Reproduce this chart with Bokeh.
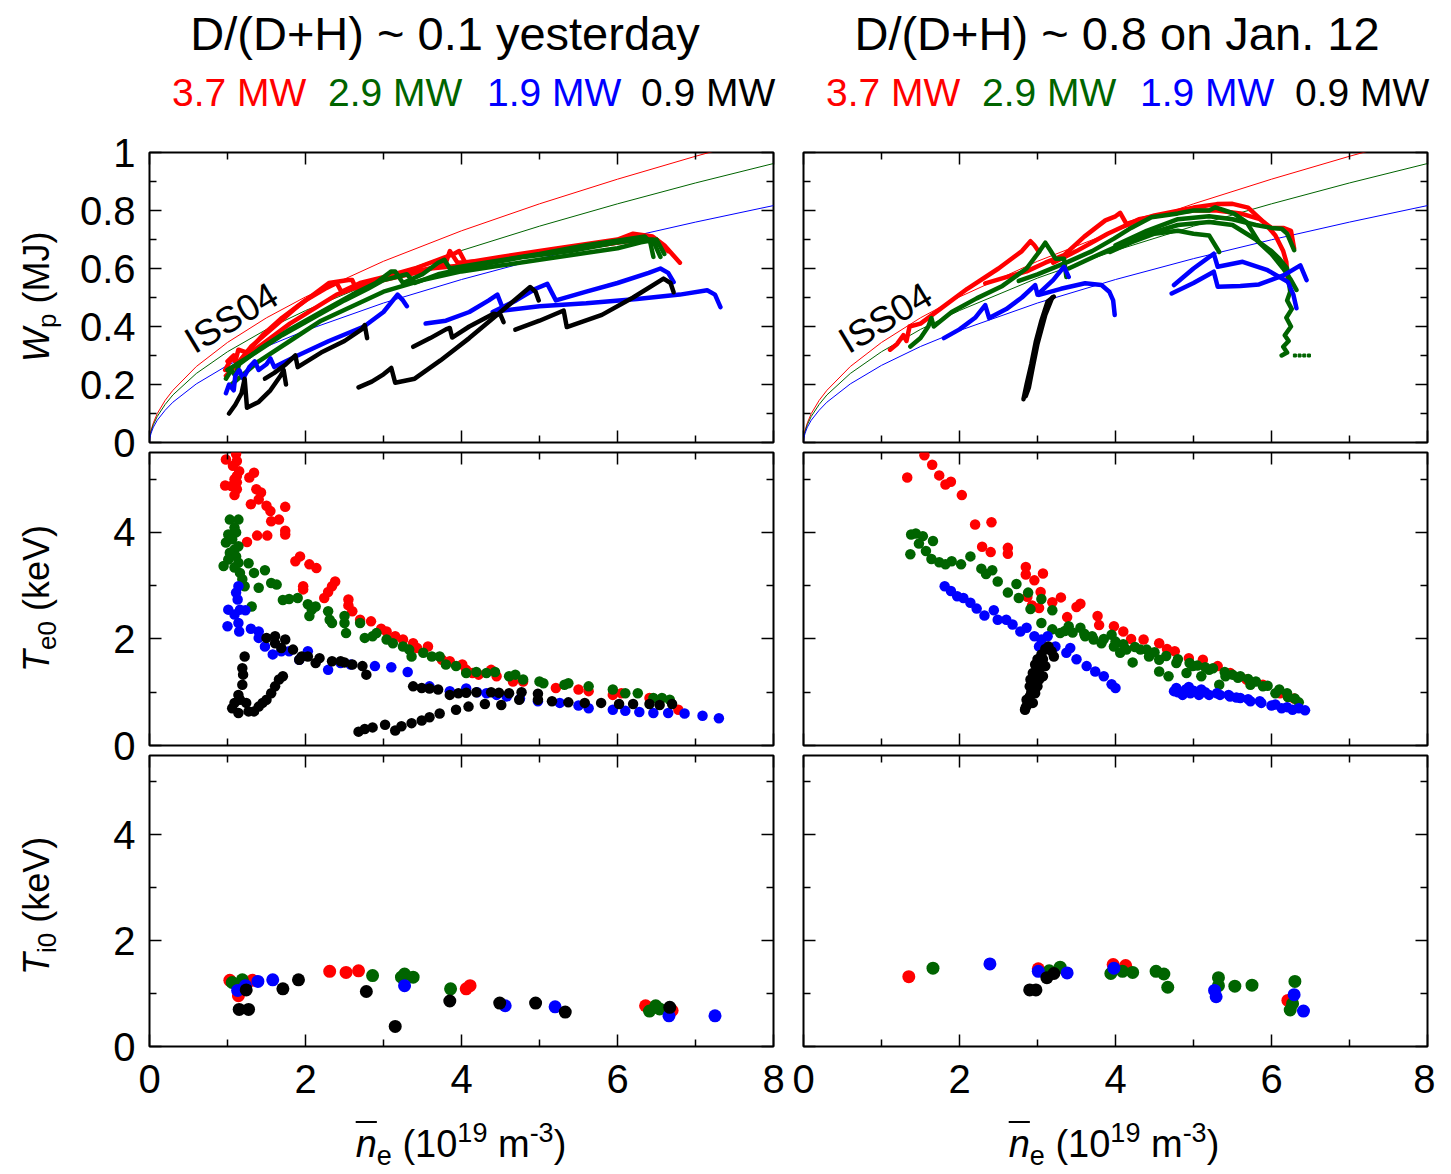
from bokeh.plotting import figure
from bokeh.models import Range1d, LinearAxis, FixedTicker, CustomJSTickFormatter, Label, Div
from bokeh.layouts import column, row
from bokeh.embed import file_html
from bokeh.resources import INLINE

FONT = "Liberation Sans"
RED = "#ff0000"
GREEN = "#006400"
BLUE = "#0000ff"
BLACK = "#000000"

TITLES = ["D/(D+H) ~ 0.1 yesterday", "D/(D+H) ~ 0.8 on Jan. 12"]
POWER_LABELS = ["3.7 MW", "2.9 MW", "1.9 MW", "0.9 MW"]
POWER_COLORS = [RED, GREEN, BLUE, BLACK]

X_TICKS = [0, 2, 4, 6, 8]
X_MINOR = [1, 3, 5, 7]
WP_TICKS = [0, 0.2, 0.4, 0.6, 0.8, 1.0]
WP_MINOR = [0.1, 0.3, 0.5, 0.7, 0.9]
T_TICKS = [0, 2, 4]
T_MINOR = [1, 3, 5]

# ISS04 scaling curves
ISS_X = [0, 0.005, 0.02, 0.05, 0.1, 0.2, 0.3, 0.6, 1, 1.5, 2, 3, 4, 5, 6, 7, 8]
ISS_RED = [0, .020, .042, .068, .100, .145, .180, .262, .345, .430, .502, .625, .730, .823, .908, .987, 1.061]
ISS_GREEN = [0, .018, .038, .062, .090, .131, .164, .238, .313, .390, .455, .567, .662, .746, .823, .895, .962]
ISS_BLUE = [0, .015, .032, .053, .077, .111, .139, .202, .266, .331, .386, .481, .562, .634, .699, .760, .817]

# ---- Wp traces, left (yesterday)
WP_L_RED_X = [
    [0.97, 1.05, 1.10, 1.14, 1.25, 1.45, 1.7, 2.0, 2.25, 2.40, 2.46, 2.7, 3.0, 3.4, 3.7, 3.9, 3.97, 4.05, 4.5, 5.0, 5.5, 6.0, 6.2, 6.45, 6.6, 6.8],
    [1.0, 1.08, 1.12, 1.3, 1.6, 1.9, 2.15, 2.3, 2.55, 2.6, 2.65, 3.0, 3.5, 3.8, 3.85, 3.95, 4.5, 5.0, 5.5, 6.0, 6.2, 6.35, 6.5, 6.65],
    [0.98, 1.2, 1.5, 1.8, 2.1, 2.4, 2.8, 3.2, 3.6, 4.0, 4.5, 5.0, 5.5, 6.0, 6.3, 6.5, 6.6],
]
WP_L_RED_Y = [
    [0.25, 0.29, 0.28, 0.32, 0.31, 0.37, 0.43, 0.49, 0.53, 0.55, 0.52, 0.55, 0.57, 0.60, 0.63, 0.65, 0.66, 0.62, 0.64, 0.66, 0.68, 0.70, 0.72, 0.71, 0.68, 0.62],
    [0.28, 0.30, 0.27, 0.33, 0.40, 0.47, 0.52, 0.55, 0.56, 0.56, 0.53, 0.56, 0.59, 0.62, 0.66, 0.62, 0.63, 0.65, 0.67, 0.69, 0.71, 0.70, 0.69, 0.66],
    [0.23, 0.29, 0.35, 0.41, 0.46, 0.51, 0.55, 0.58, 0.60, 0.61, 0.63, 0.65, 0.67, 0.69, 0.70, 0.70, 0.67],
]
WP_L_GREEN_X = [
    [0.98, 1.05, 1.1, 1.15, 1.4, 1.8, 2.2, 2.6, 2.9, 3.1, 3.15, 3.25, 3.5, 3.7, 3.78, 3.85, 4.3, 5.0, 5.6, 6.1, 6.35, 6.42, 6.46],
    [1.0, 1.3, 1.7, 2.1, 2.5, 2.8, 3.0, 3.3, 3.4, 3.7, 4.2, 4.8, 5.4, 6.0, 6.3, 6.45, 6.55],
    [1.05, 1.4, 1.8, 2.2, 2.6, 3.0, 3.5, 4.0, 4.5, 5.0, 5.5, 6.0, 6.3, 6.5, 6.6],
]
WP_L_GREEN_Y = [
    [0.22, 0.25, 0.23, 0.27, 0.32, 0.39, 0.45, 0.51, 0.55, 0.59, 0.59, 0.55, 0.58, 0.62, 0.63, 0.60, 0.62, 0.65, 0.68, 0.70, 0.71, 0.69, 0.64],
    [0.25, 0.30, 0.37, 0.43, 0.49, 0.53, 0.56, 0.58, 0.55, 0.58, 0.61, 0.64, 0.66, 0.69, 0.70, 0.70, 0.64],
    [0.20, 0.28, 0.35, 0.42, 0.47, 0.52, 0.56, 0.59, 0.61, 0.63, 0.65, 0.67, 0.69, 0.70, 0.65],
]
WP_L_BLUE_X = [
    [0.98, 1.02, 1.08, 1.1, 1.15, 1.2, 1.28, 1.35, 1.4, 1.5, 1.55, 1.6, 1.9, 2.3, 2.75, 3.0, 3.18, 3.25, 3.3],
    [3.54, 3.8, 4.1, 4.35, 4.46, 4.54, 5.0, 5.6, 6.25, 6.8, 7.15, 7.25, 7.32],
    [4.4, 4.7, 4.95, 5.1, 5.21, 5.6, 6.0, 6.4, 6.55, 6.65, 6.72],
]
WP_L_BLUE_Y = [
    [0.17, 0.20, 0.18, 0.23, 0.25, 0.22, 0.26, 0.28, 0.25, 0.27, 0.29, 0.26, 0.30, 0.35, 0.40, 0.45, 0.51, 0.49, 0.47],
    [0.41, 0.42, 0.45, 0.49, 0.51, 0.455, 0.47, 0.48, 0.495, 0.51, 0.525, 0.51, 0.467],
    [0.45, 0.49, 0.53, 0.547, 0.49, 0.52, 0.55, 0.585, 0.60, 0.585, 0.553],
]
WP_L_BLACK_X = [
    [1.02, 1.1, 1.18, 1.22, 1.25, 1.4, 1.55, 1.68, 1.72, 1.75],
    [1.48, 1.6, 1.75, 1.87, 1.9, 2.2, 2.5, 2.72, 2.76, 2.79],
    [2.68, 2.85, 3.0, 3.1, 3.15, 3.4, 3.73, 4.1, 4.5, 4.88, 4.95, 4.99],
    [3.38, 3.6, 3.8, 3.85, 3.88, 4.1, 4.41, 4.5, 4.54],
    [4.69, 5.0, 5.31, 5.35, 5.8, 6.2, 6.59, 6.68, 6.72],
]
WP_L_BLACK_Y = [
    [0.10, 0.13, 0.17, 0.22, 0.12, 0.14, 0.18, 0.23, 0.25, 0.20],
    [0.22, 0.24, 0.27, 0.30, 0.26, 0.31, 0.35, 0.39, 0.405, 0.36],
    [0.19, 0.21, 0.235, 0.257, 0.206, 0.22, 0.283, 0.36, 0.45, 0.536, 0.52, 0.49],
    [0.33, 0.36, 0.39, 0.395, 0.362, 0.40, 0.444, 0.44, 0.415],
    [0.389, 0.42, 0.455, 0.398, 0.44, 0.50, 0.565, 0.55, 0.518],
]

# ---- Wp traces, right (Jan. 12)
WP_R_RED_X = [
    [1.11, 1.2, 1.28, 1.32, 1.36, 1.5, 1.75, 2.1, 2.5, 2.8, 2.91, 2.96, 3.02],
    [2.33, 2.6, 2.86, 3.1, 3.34, 3.6, 3.87, 4.0, 4.06, 4.14, 4.5, 5.0, 5.3, 5.5, 5.7, 5.9, 6.05, 6.15, 6.19, 6.21],
    [3.2, 3.5, 3.9, 4.3, 4.7, 5.0, 5.3, 5.6, 5.85, 6.0, 6.15, 6.25, 6.29],
]
WP_R_RED_Y = [
    [0.32, 0.34, 0.37, 0.35, 0.40, 0.41, 0.46, 0.53, 0.60, 0.66, 0.694, 0.68, 0.657],
    [0.549, 0.57, 0.59, 0.62, 0.646, 0.71, 0.766, 0.78, 0.792, 0.754, 0.783, 0.81, 0.822, 0.823, 0.81, 0.76, 0.714, 0.66, 0.623, 0.554],
    [0.62, 0.66, 0.72, 0.77, 0.79, 0.80, 0.80, 0.79, 0.77, 0.74, 0.74, 0.73, 0.669],
]
WP_R_GREEN_X = [
    [1.37, 1.5, 1.6, 1.64, 1.67, 1.9, 2.22, 2.55, 2.86, 3.0, 3.1, 3.17, 3.23, 3.34, 3.37],
    [2.76, 3.0, 3.39, 3.7, 3.98, 4.2, 4.46, 4.8, 5.0, 5.2, 5.28, 5.4, 5.52, 5.68, 5.84, 6.0, 6.1, 6.2, 6.24, 6.20, 6.26, 6.19, 6.25, 6.17, 6.22, 6.15, 6.20, 6.13],
    [3.93, 4.2, 4.5, 4.8, 5.0, 5.2, 5.33],
    [4.0, 4.4, 4.8, 5.2, 5.5, 5.8, 6.0, 6.13, 6.2, 6.29],
    [3.4, 3.8, 4.3, 4.8, 5.2, 5.5, 5.8, 6.0, 6.15, 6.25, 6.32],
]
WP_R_GREEN_Y = [
    [0.331, 0.36, 0.40, 0.429, 0.40, 0.45, 0.497, 0.54, 0.60, 0.65, 0.689, 0.66, 0.634, 0.634, 0.571],
    [0.557, 0.58, 0.623, 0.66, 0.703, 0.74, 0.777, 0.79, 0.80, 0.80, 0.811, 0.80, 0.789, 0.76, 0.691, 0.66, 0.634, 0.60, 0.52, 0.49, 0.46, 0.43, 0.40, 0.37, 0.35, 0.33, 0.31, 0.30],
    [0.657, 0.69, 0.72, 0.73, 0.72, 0.714, 0.657],
    [0.68, 0.73, 0.77, 0.78, 0.77, 0.75, 0.74, 0.737, 0.72, 0.663],
    [0.60, 0.65, 0.71, 0.75, 0.76, 0.75, 0.70, 0.65, 0.60, 0.56, 0.526],
]
WP_R_GREEN_TAIL_X = [6.30, 6.36, 6.42, 6.48]
WP_R_GREEN_TAIL_Y = [0.30, 0.30, 0.30, 0.30]
WP_R_BLUE_X = [
    [1.8, 2.0, 2.2, 2.33, 2.38, 2.6, 2.8, 2.97, 3.0, 3.2, 3.34, 3.4],
    [3.02, 3.3, 3.61, 3.82, 3.92, 3.97, 3.99],
    [4.75, 5.0, 5.26, 5.31, 5.63, 5.95, 6.21, 6.28, 6.32],
    [4.72, 5.0, 5.26, 5.31, 5.6, 5.84, 6.16, 6.37, 6.45],
]
WP_R_BLUE_Y = [
    [0.36, 0.39, 0.43, 0.474, 0.429, 0.46, 0.50, 0.543, 0.51, 0.56, 0.606, 0.571],
    [0.509, 0.53, 0.549, 0.543, 0.52, 0.49, 0.44],
    [0.543, 0.60, 0.651, 0.606, 0.623, 0.594, 0.554, 0.51, 0.463],
    [0.514, 0.55, 0.589, 0.537, 0.54, 0.545, 0.577, 0.611, 0.56],
]
WP_R_BLACK_X = [
    [2.82, 2.86, 2.92, 2.98, 3.05, 3.13, 3.21],
    [3.19, 3.1, 3.0, 2.94, 2.89, 2.85],
]
WP_R_BLACK_Y = [
    [0.149, 0.20, 0.27, 0.35, 0.42, 0.486, 0.503],
    [0.50, 0.44, 0.34, 0.26, 0.19, 0.16],
]

# ---- Te0, left
TE_L_RED_X = [0.98, 1.11, 1.12, 1.07, 1.15, 1.12, 1.09, 1.12, 1.05, 0.97, 1.12, 1.09, 1.28, 1.34, 1.37, 1.43, 1.40, 1.30, 1.50, 1.55, 1.74, 1.66, 1.56, 1.74, 1.74, 1.51, 1.38, 1.25, 1.87, 1.93, 2.05, 2.14, 1.97, 1.97, 2.38, 2.34, 2.29, 2.24, 2.55, 2.55, 2.60, 2.70, 2.84, 2.97, 3.04, 3.15, 3.25, 3.38, 3.43, 3.57, 3.75, 3.85, 4.01, 4.06, 4.14, 4.22, 4.38, 4.45, 4.66, 4.79, 5.21, 5.50, 5.63, 5.94, 6.05, 6.41, 6.78]
TE_L_RED_Y = [5.37, 5.47, 5.34, 5.25, 5.15, 5.06, 5.00, 4.94, 4.87, 4.88, 4.81, 4.70, 5.03, 5.12, 4.81, 4.75, 4.62, 4.53, 4.50, 4.40, 4.48, 4.24, 4.21, 4.03, 3.96, 3.94, 3.94, 3.82, 3.46, 3.55, 3.40, 3.33, 2.99, 2.93, 3.08, 2.99, 2.88, 2.77, 2.74, 2.63, 2.52, 2.36, 2.33, 2.19, 2.14, 2.05, 1.99, 1.92, 1.83, 1.86, 1.61, 1.58, 1.52, 1.42, 1.36, 1.33, 1.42, 1.30, 1.20, 1.20, 1.08, 1.05, 1.02, 0.95, 0.98, 0.89, 0.67]
TE_L_GREEN_X = [1.03, 1.14, 1.09, 1.11, 1.01, 1.06, 0.98, 1.14, 1.09, 1.03, 1.11, 1.01, 1.14, 0.95, 1.09, 1.16, 1.19, 1.22, 1.27, 1.34, 1.48, 1.40, 1.31, 1.56, 1.63, 1.71, 1.79, 1.90, 2.03, 2.08, 2.13, 2.05, 2.29, 2.31, 2.34, 2.50, 2.50, 2.52, 2.70, 2.76, 2.86, 2.91, 3.04, 3.12, 3.25, 3.33, 3.36, 3.51, 3.62, 3.72, 3.80, 3.93, 4.06, 4.19, 4.32, 4.43, 4.61, 4.69, 4.79, 5.00, 5.05, 5.32, 5.37, 5.63, 5.94, 6.10, 6.26, 6.46, 6.57, 6.67]
TE_L_GREEN_Y = [4.24, 4.24, 4.09, 4.00, 3.96, 3.87, 3.81, 3.74, 3.68, 3.62, 3.55, 3.49, 3.43, 3.37, 3.34, 3.24, 3.12, 2.99, 3.42, 3.24, 3.29, 2.96, 2.61, 3.05, 3.02, 2.73, 2.75, 2.77, 2.65, 2.55, 2.61, 2.43, 2.52, 2.36, 2.30, 2.43, 2.30, 2.11, 2.30, 2.02, 2.05, 2.11, 1.99, 1.92, 1.86, 1.80, 1.67, 1.74, 1.67, 1.67, 1.52, 1.49, 1.36, 1.38, 1.36, 1.38, 1.30, 1.33, 1.24, 1.20, 1.17, 1.14, 1.17, 1.11, 1.05, 0.98, 0.98, 0.89, 0.89, 0.86]
TE_L_BLUE_X = [1.14, 1.11, 1.13, 1.01, 1.16, 1.09, 1.23, 1.00, 1.14, 1.15, 1.30, 1.40, 1.40, 1.48, 1.58, 1.69, 1.79, 1.92, 2.03, 2.29, 2.45, 2.58, 2.89, 3.10, 3.31,
               3.59, 3.85, 4.06, 4.20, 4.32, 4.45, 4.58, 4.75, 4.98, 5.26, 5.50, 5.63, 5.94, 6.10, 6.28, 6.46, 6.65, 6.86, 7.09, 7.30]
TE_L_BLUE_Y = [2.99, 2.87, 2.74, 2.55, 2.55, 2.46, 2.54, 2.24, 2.30, 2.14, 2.19, 2.14, 2.02, 1.86, 1.71, 1.77, 1.77, 1.61, 1.77, 1.42, 1.55, 1.52, 1.49, 1.47, 1.38,
               1.11, 1.02, 1.07, 1.00, 0.98, 0.95, 0.92, 0.88, 0.83, 0.80, 0.75, 0.70, 0.67, 0.65, 0.63, 0.61, 0.61, 0.60, 0.56, 0.51]
TE_L_BLACK_X = [1.22, 1.19, 1.20, 1.19, 1.14, 1.16, 1.09, 1.06, 1.14, 1.24, 1.27, 1.34, 1.40, 1.45, 1.50, 1.56, 1.61, 1.66, 1.71,
                1.50, 1.61, 1.74, 1.61, 1.69, 1.84, 1.92, 1.95, 2.03, 2.13, 2.18, 2.34, 2.45, 2.50, 2.60, 2.73, 2.78,
                2.68, 2.76, 2.86, 3.02, 3.15, 3.23, 3.36, 3.49, 3.59, 3.72, 3.93, 4.09, 4.30, 4.51,
                3.38, 3.49, 3.59, 3.70, 3.85, 3.96, 4.06, 4.19, 4.38, 4.48, 4.61, 4.77, 4.74, 4.98, 4.98, 5.16, 5.37, 5.58, 5.79, 6.02, 6.20, 6.41, 6.54, 6.70]
TE_L_BLACK_Y = [1.67, 1.45, 1.33, 1.14, 0.95, 0.86, 0.80, 0.70, 0.61, 0.80, 0.64, 0.64, 0.73, 0.80, 0.86, 0.98, 1.11, 1.24, 1.30,
                2.02, 2.05, 1.99, 1.92, 1.83, 1.80, 1.61, 1.67, 1.67, 1.55, 1.64, 1.58, 1.58, 1.56, 1.52, 1.49, 1.33,
                0.26, 0.31, 0.34, 0.39, 0.28, 0.36, 0.42, 0.47, 0.53, 0.60, 0.67, 0.73, 0.78, 0.76,
                1.11, 1.08, 1.07, 1.05, 0.95, 0.98, 0.99, 1.00, 1.00, 0.99, 0.98, 1.00, 0.86, 0.97, 0.86, 0.83, 0.81, 0.80, 0.80, 0.78, 0.78, 0.78, 0.76, 0.78]

# ---- Te0, right
TE_R_RED_X = [1.33, 1.55, 1.65, 1.74, 1.82, 1.89, 2.03, 2.20, 2.41, 2.29, 2.40, 2.62, 2.62, 2.85, 2.85, 3.07, 2.96, 3.04, 2.87, 3.02, 2.93, 3.19, 3.30, 3.38, 3.50, 3.55, 3.77, 3.79, 3.98, 4.10, 4.20, 4.36, 4.56, 4.66, 4.76, 4.94, 5.12, 5.31, 5.47, 5.68, 5.89, 6.11, 6.29]
TE_R_RED_Y = [5.03, 5.45, 5.27, 5.07, 4.90, 4.95, 4.70, 4.15, 4.19, 3.73, 3.63, 3.71, 3.60, 3.35, 3.21, 3.23, 3.10, 2.88, 2.79, 2.58, 2.63, 2.69, 2.78, 2.41, 2.60, 2.66, 2.43, 2.26, 2.24, 2.14, 2.00, 1.99, 1.92, 1.81, 1.77, 1.64, 1.61, 1.49, 1.36, 1.24, 1.14, 0.98, 0.88]
TE_R_GREEN_X = [1.37, 1.38, 1.44, 1.53, 1.48, 1.57, 1.66, 1.64, 1.74, 1.82, 1.90, 2.02, 2.14, 2.28, 2.34, 2.42, 2.49, 2.73, 2.62, 2.76, 2.88, 3.05, 2.91, 3.19, 3.05, 3.19, 3.29, 3.40, 3.55, 3.61, 3.72, 3.82, 3.95, 3.98, 4.06, 4.14, 4.22, 4.32, 4.43, 4.56, 4.56, 4.68, 4.78, 4.91, 4.99, 5.10, 5.20, 5.33, 5.41, 5.57, 5.73, 5.89, 6.05, 6.21, 6.35,
                3.35, 3.45, 3.60, 3.70, 3.85, 4.00, 4.10, 4.25, 4.40, 4.50, 4.65, 4.80, 4.95, 5.05, 5.15, 5.25, 5.40, 5.50, 5.60, 5.70, 5.80, 5.95, 6.10, 6.20, 6.30]
TE_R_GREEN_Y = [3.59, 3.96, 3.98, 3.93, 3.79, 3.65, 3.84, 3.50, 3.44, 3.40, 3.46, 3.40, 3.55, 3.32, 3.22, 3.29, 3.08, 3.03, 2.87, 2.77, 2.87, 2.75, 2.56, 2.54, 2.30, 2.18, 2.11, 2.24, 2.21, 2.05, 1.99, 1.92, 2.08, 1.86, 1.74, 1.80, 1.56, 1.80, 1.67, 1.61, 1.39, 1.30, 1.55, 1.36, 1.49, 1.30, 1.42, 1.14, 1.30, 1.27, 1.14, 1.11, 0.98, 0.91, 0.81,
                2.15, 2.12, 2.10, 2.05, 2.00, 1.95, 1.90, 1.85, 1.80, 1.75, 1.68, 1.62, 1.55, 1.50, 1.47, 1.45, 1.38, 1.33, 1.30, 1.25, 1.20, 1.12, 1.05, 0.98, 0.88]
TE_R_BLUE_X = [1.81, 1.89, 1.97, 2.05, 2.14, 2.22, 2.32, 2.44, 2.49, 2.60, 2.68, 2.78, 2.86, 2.96, 3.05, 3.13, 3.02, 3.23, 3.37, 3.42, 3.50, 3.63, 3.74, 3.85, 3.95, 4.00,
               4.75, 4.86, 4.96, 5.07, 5.20, 5.34, 5.47, 5.60, 5.73, 5.87, 6.00, 6.13, 6.27, 6.43, 4.78, 4.94, 5.10,
               4.80, 4.90, 5.00, 5.15, 5.30, 5.45, 5.55, 5.70, 5.85, 6.05, 6.20, 6.35]
TE_R_BLUE_Y = [2.99, 2.90, 2.80, 2.77, 2.68, 2.57, 2.44, 2.54, 2.36, 2.36, 2.27, 2.14, 2.21, 2.05, 1.99, 2.05, 1.86, 1.86, 1.74, 1.83, 1.62, 1.49, 1.39, 1.30, 1.15, 1.08,
               1.02, 0.95, 0.98, 0.95, 0.95, 0.95, 0.92, 0.89, 0.83, 0.80, 0.75, 0.70, 0.67, 0.66, 1.08, 1.10, 1.05,
               1.00, 1.05, 1.03, 1.00, 0.98, 0.95, 0.90, 0.87, 0.83, 0.77, 0.72, 0.70]
TE_R_BLACK_X = [2.84, 2.87, 2.90, 2.90, 2.91, 2.94, 2.97, 3.00, 3.05, 3.10, 3.14, 3.18, 3.21, 2.86, 2.94, 2.97, 3.00, 3.02, 3.07, 3.10, 3.07, 2.85, 2.88, 2.92, 2.95, 2.99, 3.03]
TE_R_BLACK_Y = [0.67, 0.76, 0.92, 1.11, 1.24, 1.36, 1.52, 1.62, 1.71, 1.81, 1.86, 1.77, 1.67, 0.86, 0.80, 0.98, 1.11, 1.24, 1.30, 1.49, 1.62, 0.72, 0.85, 1.00, 1.18, 1.35, 1.45]

# ---- Ti0, left
TI_L_RED_X = [1.03, 1.14, 1.32, 2.31, 2.52, 2.68, 4.06, 4.11, 6.36, 6.70]
TI_L_RED_Y = [1.25, 0.96, 1.25, 1.42, 1.40, 1.43, 1.09, 1.15, 0.77, 0.68]
TI_L_GREEN_X = [1.06, 1.19, 2.86, 3.27, 3.38, 3.23, 3.86, 6.41, 6.49, 6.54]
TI_L_GREEN_Y = [1.21, 1.26, 1.34, 1.37, 1.31, 1.31, 1.09, 0.67, 0.77, 0.71]
TI_L_BLUE_X = [1.13, 1.23, 1.39, 1.58, 3.27, 4.56, 5.20, 6.66, 7.25]
TI_L_BLUE_Y = [1.06, 1.15, 1.23, 1.26, 1.15, 0.77, 0.75, 0.58, 0.58]
TI_L_BLACK_X = [1.24, 1.15, 1.27, 1.71, 1.91, 2.78, 3.15, 3.85, 4.49, 4.95, 5.33, 6.67]
TI_L_BLACK_Y = [1.07, 0.70, 0.70, 1.09, 1.26, 1.04, 0.38, 0.86, 0.82, 0.82, 0.65, 0.74]

# ---- Ti0, right
TI_R_RED_X = [1.35, 3.01, 3.97, 4.13, 6.21]
TI_R_RED_Y = [1.32, 1.47, 1.55, 1.53, 0.87]
TI_R_GREEN_X = [1.66, 3.15, 3.29, 3.94, 4.09, 4.22, 4.52, 4.62, 4.67, 5.32, 5.32, 5.53, 5.75, 6.30, 6.27, 6.24]
TI_R_GREEN_Y = [1.48, 1.43, 1.50, 1.38, 1.42, 1.40, 1.42, 1.37, 1.12, 1.30, 1.15, 1.14, 1.16, 1.23, 0.81, 0.69]
TI_R_BLUE_X = [2.39, 3.01, 3.38, 3.98, 5.27, 5.29, 6.29, 6.41]
TI_R_BLUE_Y = [1.56, 1.42, 1.39, 1.48, 1.06, 0.94, 0.98, 0.67]
TI_R_BLACK_X = [2.90, 2.98, 3.12, 3.21]
TI_R_BLACK_Y = [1.07, 1.07, 1.30, 1.38]

# ---------------------------------------------------------------------------
LEFT_W = 70          # width of the column holding the rotated axis titles
FRAME_W = 624


def style_axis(ax, ticker, show, standoff=0, formatter=None):
    ax.ticker = ticker
    ax.axis_line_color = None
    ax.major_tick_in = 12
    ax.major_tick_out = 0
    ax.minor_tick_in = 7
    ax.minor_tick_out = 0
    ax.major_tick_line_color = "black"
    ax.minor_tick_line_color = "black"
    ax.major_tick_line_width = 1.5
    ax.minor_tick_line_width = 1.5
    if show:
        ax.major_label_text_font = FONT
        ax.major_label_text_font_size = "40px"
        ax.major_label_text_color = "black"
        ax.major_label_standoff = standoff
        if formatter is not None:
            ax.formatter = formatter
    else:
        ax.formatter = CustomJSTickFormatter(code="return ''")
        ax.major_label_text_font_size = "1px"
        ax.major_label_standoff = 0


def make_fig(ri, ci):
    bl, br = (149 - LEFT_W, 15) if ci == 0 else (15, 8)
    if ri == 0:
        bt, fh, bb = 27, 290, 25
    elif ri == 1:
        bt, fh, bb = 25, 293, 25
    else:
        bt, fh, bb = 25, 291, 72
    ymax = 1.0 if ri == 0 else 5.5
    p = figure(width=bl + FRAME_W + br, height=bt + fh + bb,
               x_range=Range1d(0, 8), y_range=Range1d(0, ymax),
               output_backend="svg", toolbar_location=None,
               min_border_left=bl, min_border_right=br, min_border_top=bt, min_border_bottom=bb)
    p.outline_line_color = "black"
    p.outline_line_width = 2
    p.background_fill_color = "white"
    p.border_fill_color = None
    p.xgrid.visible = False
    p.ygrid.visible = False

    xt = FixedTicker(ticks=X_TICKS, minor_ticks=X_MINOR)
    if ri == 0:
        yt = FixedTicker(ticks=WP_TICKS, minor_ticks=WP_MINOR)
        yfmt = CustomJSTickFormatter(code="return (Math.round(tick*10)/10).toString()")
    else:
        yt = FixedTicker(ticks=T_TICKS, minor_ticks=T_MINOR)
        yfmt = None

    style_axis(p.xaxis[0], xt, ri == 2, standoff=18)
    style_axis(p.yaxis[0], yt, ci == 0, standoff=14, formatter=yfmt)
    top_ax = LinearAxis()
    style_axis(top_ax, xt, False)
    p.add_layout(top_ax, "above")
    right_ax = LinearAxis()
    style_axis(right_ax, yt, False)
    p.add_layout(right_ax, "right")
    return p


figs = [[make_fig(r, c) for c in range(2)] for r in range(3)]

# ---- Top row: Wp
wp_sets = [
    [(WP_L_RED_X, WP_L_RED_Y, RED), (WP_L_GREEN_X, WP_L_GREEN_Y, GREEN),
     (WP_L_BLUE_X, WP_L_BLUE_Y, BLUE), (WP_L_BLACK_X, WP_L_BLACK_Y, BLACK)],
    [(WP_R_RED_X, WP_R_RED_Y, RED), (WP_R_GREEN_X, WP_R_GREEN_Y, GREEN),
     (WP_R_BLUE_X, WP_R_BLUE_Y, BLUE), (WP_R_BLACK_X, WP_R_BLACK_Y, BLACK)],
]
for c in range(2):
    p = figs[0][c]
    p.line(ISS_X, ISS_RED, line_color=RED, line_width=1)
    p.line(ISS_X, ISS_GREEN, line_color=GREEN, line_width=1)
    p.line(ISS_X, ISS_BLUE, line_color=BLUE, line_width=1)
    for xs, ys, col in wp_sets[c]:
        p.multi_line(xs=xs, ys=ys, line_color=col, line_width=4.5, line_join="round", line_cap="round")
    if c == 1:
        p.scatter(WP_R_GREEN_TAIL_X, WP_R_GREEN_TAIL_Y, marker="square", size=3,
                  fill_color=GREEN, line_color=GREEN)
    p.add_layout(Label(x=1.05, y=0.43, text="ISS04", angle=0.54, text_align="center",
                       text_baseline="middle", text_font=FONT, text_font_size="37px",
                       text_color="black"))

# ---- Middle row: Te0
te_sets = [
    [(TE_L_RED_X, TE_L_RED_Y, RED), (TE_L_GREEN_X, TE_L_GREEN_Y, GREEN),
     (TE_L_BLUE_X, TE_L_BLUE_Y, BLUE), (TE_L_BLACK_X, TE_L_BLACK_Y, BLACK)],
    [(TE_R_RED_X, TE_R_RED_Y, RED), (TE_R_GREEN_X, TE_R_GREEN_Y, GREEN),
     (TE_R_BLUE_X, TE_R_BLUE_Y, BLUE), (TE_R_BLACK_X, TE_R_BLACK_Y, BLACK)],
]
for c in range(2):
    for xs, ys, col in te_sets[c]:
        figs[1][c].scatter(xs, ys, size=10.5, fill_color=col, line_color=None)

# ---- Bottom row: Ti0
ti_sets = [
    [(TI_L_RED_X, TI_L_RED_Y, RED), (TI_L_GREEN_X, TI_L_GREEN_Y, GREEN),
     (TI_L_BLUE_X, TI_L_BLUE_Y, BLUE), (TI_L_BLACK_X, TI_L_BLACK_Y, BLACK)],
    [(TI_R_RED_X, TI_R_RED_Y, RED), (TI_R_GREEN_X, TI_R_GREEN_Y, GREEN),
     (TI_R_BLUE_X, TI_R_BLUE_Y, BLUE), (TI_R_BLACK_X, TI_R_BLACK_Y, BLACK)],
]
for c in range(2):
    for xs, ys, col in ti_sets[c]:
        figs[2][c].scatter(xs, ys, size=13, fill_color=col, line_color=None)

# ---------------------------------------------------------------------------
# Text blocks (HTML) : titles, power legend, axis titles
FF = "font-family:'Liberation Sans',Arial,sans-serif;color:#000;"
HEADER_H = 125
TOTAL_W = LEFT_W + figs[0][0].width + figs[0][1].width


def abs_box(left, top, size, inner, extra=""):
    return (f"<div style=\"position:absolute;left:{left}px;top:{top}px;font-size:{size}px;"
            f"line-height:1;white-space:nowrap;{extra}\">{inner}</div>")


hdr = []
for cx, title in zip([445, 1117], TITLES):
    hdr.append(abs_box(cx - 300, 10, 47, title, "width:600px;text-align:center;"))
for lefts in ([172, 328, 487, 641], [826, 982, 1140, 1295]):
    for lx, txt, col in zip(lefts, POWER_LABELS, POWER_COLORS):
        hdr.append(abs_box(lx, 73, 39, f"<span style=\"color:{col}\">{txt}</span>"))
header = Div(text=f"<div style=\"position:relative;width:{TOTAL_W}px;height:{HEADER_H}px;{FF}\">" + "".join(hdr) + "</div>",
             width=TOTAL_W, height=HEADER_H, margin=0)

SUB = "font-size:26px;vertical-align:-7px;line-height:0;"
ROT = "transform-origin:0 0;transform:rotate(-90deg);"
YLAB = [
    (362, f"<i>W</i><span style=\"{SUB}\">p</span> (MJ)"),
    (672, f"<i>T</i><span style=\"{SUB}\">e0</span> (keV)"),
    (975, f"<i>T</i><span style=\"{SUB}\">i0</span> (keV)"),
]
col_h = figs[0][0].height + (figs[1][0].height - 40) + (figs[2][0].height - 40)
ylab_html = "".join(abs_box(19, y0 - HEADER_H, 36, inner, ROT) for y0, inner in YLAB)
left_div = Div(text=f"<div style=\"position:relative;width:{LEFT_W}px;height:{col_h}px;{FF}\">{ylab_html}</div>",
               width=LEFT_W, height=col_h, margin=0)

FOOT_TOP = HEADER_H + col_h
FOOT_H = 1170 - FOOT_TOP
SUB2 = "font-size:27px;vertical-align:-8px;line-height:0;"
SUP2 = "font-size:27px;vertical-align:15px;line-height:0;"
XLAB = (f"<i style=\"text-decoration:overline;text-decoration-thickness:2px\">n</i><span style=\"{SUB2}\">e</span> (10<span style=\"{SUP2}\">19</span>"
        f" m<span style=\"{SUP2}\">-3</span>)")
foot_html = "".join(abs_box(cx - 200, 1157 - FOOT_TOP - 32, 38, XLAB, "width:400px;text-align:center;")
                    for cx in [461, 1114])
footer = Div(text=f"<div style=\"position:relative;width:{TOTAL_W}px;height:{FOOT_H}px;{FF}\">{foot_html}</div>",
             width=TOTAL_W, height=FOOT_H, margin=0)

grid = column(
    row(figs[0][0], figs[0][1]),
    row(figs[1][0], figs[1][1], margin=(-40, 0, 0, 0)),
    row(figs[2][0], figs[2][1], margin=(-40, 0, 0, 0)),
)
layout = column(header, row(left_div, grid), footer)

open("out.html", "w").write(file_html(layout, INLINE))
